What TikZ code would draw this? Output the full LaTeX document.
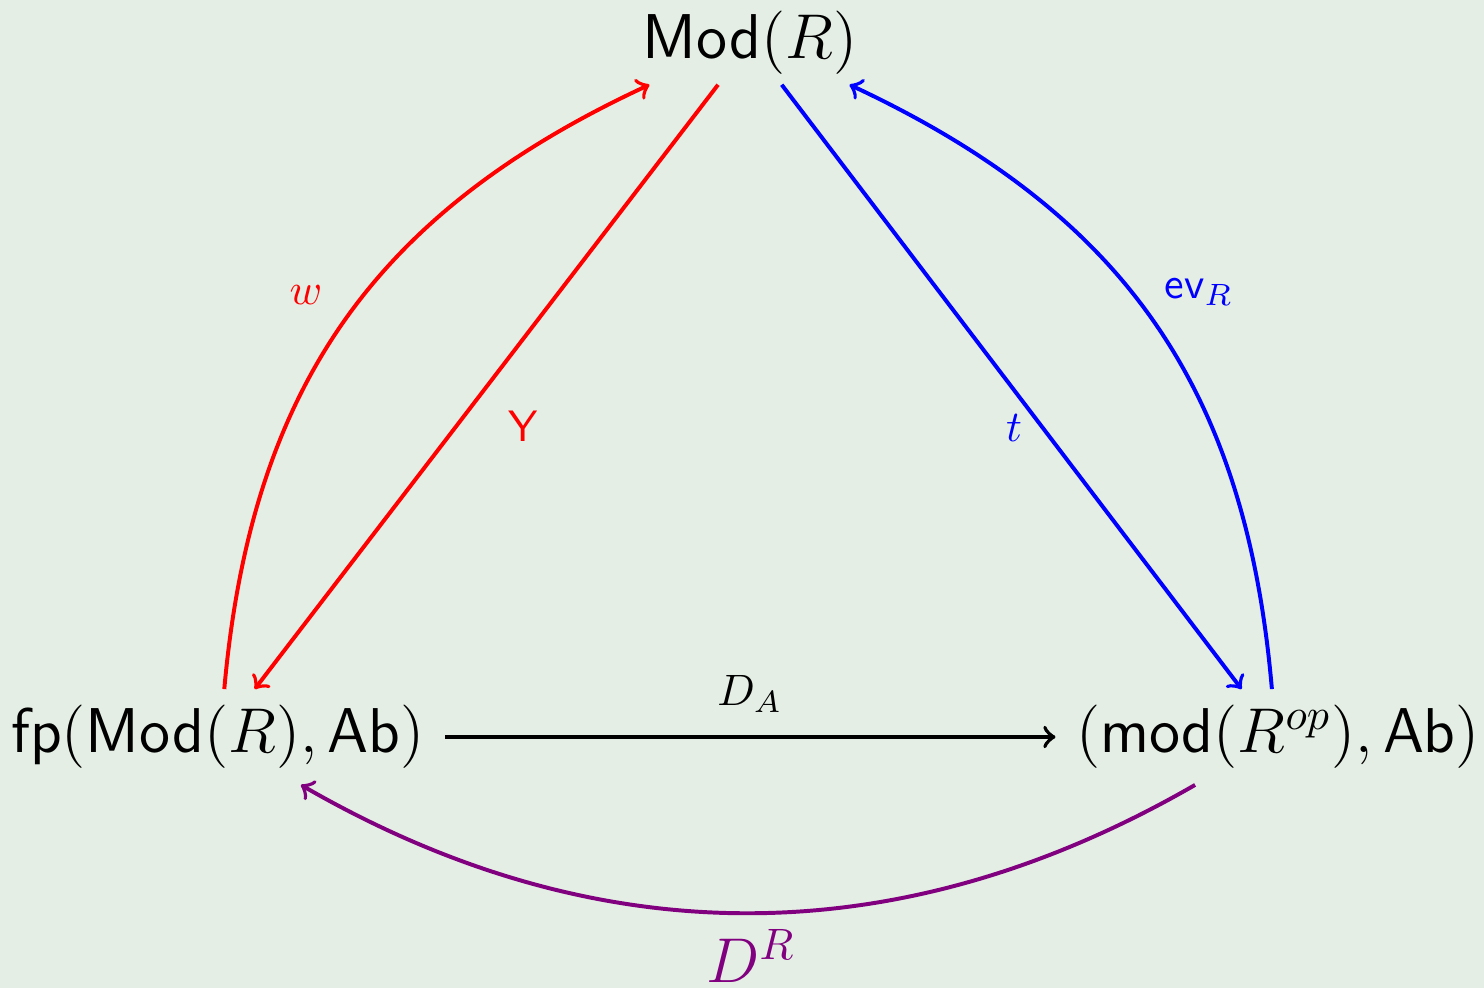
\documentclass[tikz,border=0pt]{standalone}
\usepackage{xcolor}
\definecolor{bg}{HTML}{E4EEE4}
\definecolor{mypurple}{HTML}{800080}
\begin{document}
\begin{tikzpicture}[x=0.008cm,y=-0.008cm]
\tikzset{
  obj/.style={font=\Large, inner xsep=4.5pt, inner ysep=3.5pt},
  arr/.style={->, line width=0.9pt},
  lab/.style={inner sep=0pt}
}
\fill[bg] (0,0) rectangle (1484,988);
\useasboundingbox (0,0) rectangle (1484,988);
\node[obj, inner ysep=2.1pt] (M) at (750,43) {$\textsf{Mod}(R)$};
\node[obj] (F) at (218,737) {$\textsf{fp}(\textsf{Mod}(R),\textsf{Ab})$};
\node[obj] (G) at (1278,737) {$(\textsf{mod}(R^{op}),\textsf{Ab})$};
\draw[arr] (F) -- (G);
\draw[arr,red] (M) -- (F);
\draw[arr,blue] (M) -- (G);
\draw[arr,red] (F) to[bend left=30, looseness=1.05] (M);
\draw[arr,blue] (G) to[bend right=30, looseness=1.05] (M);
\draw[arr,mypurple] (G) to[bend left=30, looseness=0.98] (F);
\node[lab,red] (lw) at (306,295) {$w$};
\node[lab,red] (lY) at (523,426) {$\textsf{Y}$};
\node[lab,blue] (lt) at (1014,428) {$t$};
\node[lab,blue] (lev) at (1199,292) {$\textsf{ev}_R$};
\node[lab] (lDA) at (750,694) {$D_A$};
\node[lab,mypurple,font=\Large] (lDR) at (751,956) {$D^R$};
\end{tikzpicture}
\end{document}
